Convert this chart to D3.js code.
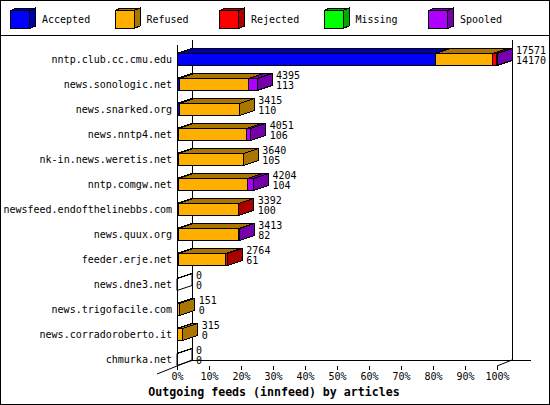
<!DOCTYPE html>
<html>
<head>
<meta charset="utf-8">
<script src="https://cdn.jsdelivr.net/npm/d3@7"></script>
<style>
  html, body { margin: 0; padding: 0; background: #fff; }
  svg { display: block; }
  text { font-family: "DejaVu Sans Mono", "Liberation Mono", monospace; fill: #000; }
</style>
</head>
<body>
<svg id="chart" width="550" height="405"></svg>
<script>
// ---------- data ----------
const categories = [
  "nntp.club.cc.cmu.edu", "news.sonologic.net", "news.snarked.org", "news.nntp4.net",
  "nk-in.news.weretis.net", "nntp.comgw.net", "newsfeed.endofthelinebbs.com",
  "news.quux.org", "feeder.erje.net", "news.dne3.net", "news.trigofacile.com",
  "news.corradoroberto.it", "chmurka.net"
];
const seriesNames = ["Accepted", "Refused", "Rejected", "Missing", "Spooled"];
const accepted = [14170, 113, 110, 106, 105, 104, 100, 82, 61, 0, 0, 0, 0];
const refused  = [3170, 3830, 3305, 3690, 3535, 3776, 3270, 3300, 2600, 0, 151, 315, 0];
const rejected = [200, 0, 0, 0, 0, 0, 22, 0, 103, 0, 0, 0, 0];
const missing  = [0, 0, 0, 0, 0, 0, 0, 0, 0, 0, 0, 0, 0];
const spooled  = [31, 452, 0, 255, 0, 324, 0, 31, 0, 0, 0, 0, 0];
const tickPercents = [0, 10, 20, 30, 40, 50, 60, 70, 80, 90, 100];
const axisTitle = "Outgoing feeds (innfeed) by articles";

const seriesValues = [accepted, refused, rejected, missing, spooled];
const frontColors = ["#0000FF", "#FFAF00", "#FF0000", "#00FF00", "#AF00FF"];
const darkColors  = ["#0000AA", "#AA7500", "#AA0000", "#00AA00", "#7500AA"];

// ---------- layout ----------
const W = 550, H = 405;
const X0 = 177, X1 = 497;      // front plot x range
const YTOP = 45, YBASE = 366;  // front plot y range
const DX = 15, DY = 6;         // axis depth
const BDX = 15, BDY = 5;       // bar depth

const svg = d3.select("#chart");
const totals = categories.map((c, i) => d3.sum(seriesValues, s => s[i]));
const maxTotal = d3.max(totals);

const x = d3.scaleLinear().domain([0, maxTotal]).range([X0, X1]);
const xPct = d3.scaleLinear().domain([0, 100]).range([X0, X1]);
const y = d3.scaleBand().domain(categories).range([53.5, 365.5]).paddingInner(0.52).paddingOuter(0);

const g = svg.append("g").attr("shape-rendering", "crispEdges");

// outer border & legend separator
g.append("rect").attr("x", 0.5).attr("y", 0.5).attr("width", W - 1).attr("height", H - 1)
  .attr("fill", "#fff").attr("stroke", "#000");
g.append("line").attr("x1", 0).attr("x2", W).attr("y1", 35.5).attr("y2", 35.5).attr("stroke", "#000");

// ---------- legend ----------
const lx = d3.scaleBand().domain(seriesNames).range([10, 532.5]).paddingInner(0).paddingOuter(0);
const leg = g.selectAll("g.leg").data(seriesNames).enter().append("g").attr("class", "leg")
  .attr("transform", d => `translate(${lx(d)},0)`);
leg.append("rect").attr("x", 0.5).attr("y", 10.5).attr("width", 19).attr("height", 18)
  .attr("fill", (d, i) => frontColors[i]).attr("stroke", "#000");
leg.append("polygon").attr("points", "0.5,10.5 19.5,10.5 25.5,8 6.5,8")
  .attr("fill", (d, i) => darkColors[i]).attr("stroke", "#000");
leg.append("polygon").attr("points", "19.5,10.5 25.5,8 25.5,26 19.5,28.5")
  .attr("fill", (d, i) => darkColors[i]).attr("stroke", "#000");
leg.append("text").attr("x", 32).attr("y", 20).attr("dominant-baseline", "middle")
  .attr("font-size", 10).attr("shape-rendering", null).text(d => d);

// ---------- axes frame ----------
const frame = g.append("g").attr("stroke", "#000").attr("fill", "none");
frame.append("line").attr("x1", X0 + DX + 0.5).attr("x2", X0 + DX + 0.5).attr("y1", YTOP - 5).attr("y2", YBASE - DY);
frame.append("line").attr("x1", X1 + DX + 0.5).attr("x2", X1 + DX + 0.5).attr("y1", YTOP - 5).attr("y2", YBASE - DY);
frame.append("line").attr("x1", X0 + DX).attr("x2", X1 + DX + 19).attr("y1", YBASE - DY + 0.5).attr("y2", YBASE - DY + 0.5);
frame.append("line").attr("x1", X0 + 0.5).attr("x2", X0 + 0.5).attr("y1", YTOP).attr("y2", YBASE);
frame.append("line").attr("x1", X0 + DX).attr("y1", YBASE - DY).attr("x2", X0 - 20).attr("y2", YBASE + 20 * DY / DX)
  .attr("shape-rendering", "auto");
frame.append("line").attr("x1", X1).attr("y1", YBASE).attr("x2", X1 + DX).attr("y2", YBASE - DY)
  .attr("shape-rendering", "auto");

// ---------- bars ----------
const barsG = g.append("g");
categories.forEach((cat, i) => {
  const t = y(cat), b = y(cat) + y.bandwidth();
  let cum = 0;
  const empty = totals[i] === 0;
  seriesValues.forEach((vals, j) => {
    const v = vals[i];
    if (v === 0 && !(empty && j === 0)) return;
    const xa = x(cum), xb = x(cum + v);
    cum += v;
    const fillF = empty ? "none" : frontColors[j];
    const fillD = empty ? "none" : darkColors[j];
    const bg = barsG.append("g").attr("stroke", "#000");
    bg.append("polygon").attr("points", [[xa, t], [xb, t], [xb, b], [xa, b]].join(" "))
      .attr("fill", fillF);
    bg.append("polygon").attr("points", [[xa, t], [xb, t], [xb + BDX, t - BDY], [xa + BDX, t - BDY]].join(" "))
      .attr("fill", fillD);
    bg.append("polygon").attr("points", [[xb, t], [xb + BDX, t - BDY], [xb + BDX, b - BDY], [xb, b]].join(" "))
      .attr("fill", fillD).attr("shape-rendering", empty ? "auto" : null);
  });
});

// ---------- category labels ----------
svg.append("g").selectAll("text").data(categories).enter().append("text")
  .attr("x", 172).attr("y", d => y(d) + y.bandwidth() / 2 + 0.5)
  .attr("text-anchor", "end").attr("dominant-baseline", "middle")
  .attr("font-size", 10).text(d => d);

// ---------- value labels ----------
const vl = svg.append("g").selectAll("g").data(categories).enter().append("g");
vl.append("text").attr("x", (d, i) => x(totals[i]) + 19).attr("y", d => y(d) + y.bandwidth() / 2 - 9)
  .attr("dominant-baseline", "middle").attr("font-size", 10).text((d, i) => totals[i]);
vl.append("text").attr("x", (d, i) => x(totals[i]) + 19).attr("y", d => y(d) + y.bandwidth() / 2 + 1)
  .attr("dominant-baseline", "middle").attr("font-size", 10).text((d, i) => accepted[i]);

// ---------- x axis ----------
const ax = svg.append("g").attr("transform", `translate(0,${YBASE})`)
  .call(d3.axisBottom(xPct).tickValues(tickPercents).tickFormat(d => d + "%").tickSize(4).tickSizeOuter(0));
ax.select(".domain").remove();
ax.selectAll("line").attr("stroke", "#000").attr("shape-rendering", "crispEdges");
ax.selectAll("text").attr("font-family", "DejaVu Sans Mono").attr("font-size", 10).attr("fill", "#000");

svg.append("text").attr("x", 274).attr("y", 392).attr("text-anchor", "middle")
  .attr("dominant-baseline", "middle").attr("font-weight", "bold").attr("font-size", 11.6)
  .text(axisTitle);
</script>
</body>
</html>
